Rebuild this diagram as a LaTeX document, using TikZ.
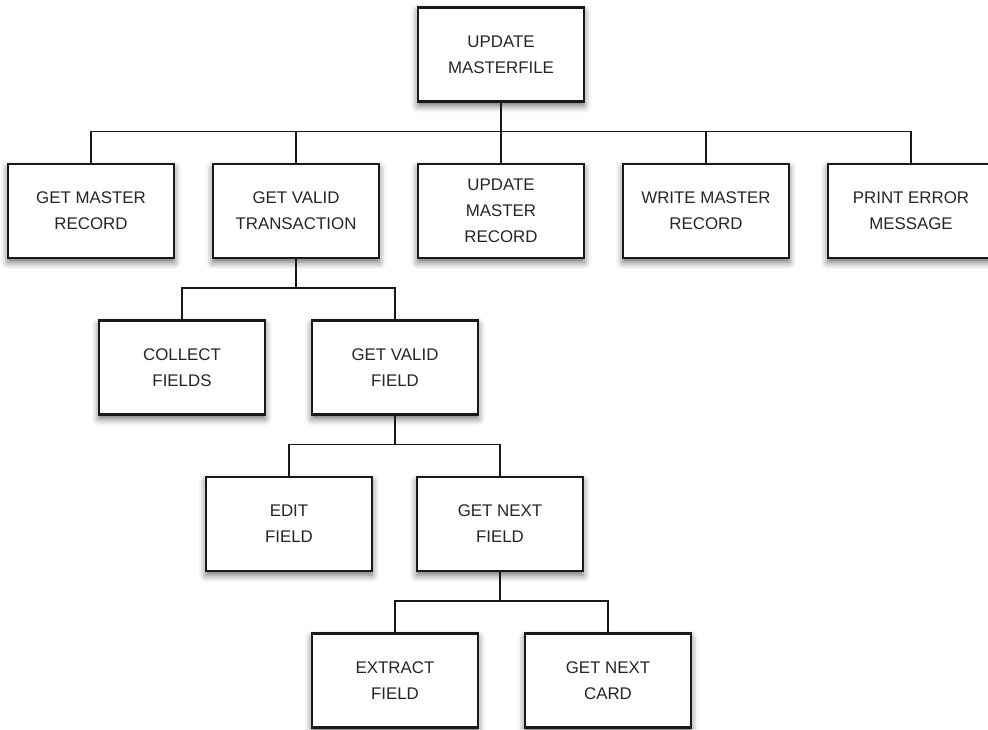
\documentclass[tikz,border=0pt]{standalone}
\usepackage{fontspec}
\setmainfont{Liberation Sans}
\usetikzlibrary{positioning,trees,shadows.blur}

\begin{document}
\begin{tikzpicture}[thin,
		level distance=3.9125cm,
		level 1/.style={sibling distance=5.125cm},
		level 2/.style={grow via three points={one child at (0,-3.9125) and two children at (-2.85,-3.9125) and (2.475,-3.9125)}},
		level 3/.style={grow via three points={one child at (0,-3.9125) and two children at (-2.65,-3.9125) and (2.625,-3.9125)}},
		level 4/.style={grow via three points={one child at (0,-3.9125) and two children at (-2.625,-3.9125) and (2.7,-3.9125)}},
		module/.style={draw=black!90, line width=1.5pt, fill=white, text=black!85,
			minimum width=4.15cm, minimum height=2.35cm, inner sep=0pt, align=center,
			font=\fontsize{12}{18.4}\selectfont,
			blur shadow={shadow xshift=0pt, shadow yshift=-3pt, shadow blur radius=5pt, shadow opacity=60}},
		every child node/.style={module},
		edge from parent/.style={draw=black!90, line width=1.1pt},
		edge from parent path={(\tikzparentnode.south) -- ++(0,-0.72) -| (\tikzchildnode.north)}]
		
		\useasboundingbox (0,0) rectangle (24.7,-18.25);
		
		\node[module] (masterfile) at (12.525,-1.3625) {UPDATE\\MASTERFILE}
		child { node (getmaster) {GET MASTER\\RECORD} }
		child { node (getvalidtrans) {GET VALID\\TRANSACTION}
			child { node (collect) {COLLECT\\FIELDS} }
			child { node (getvalidfield) {GET VALID\\FIELD}
				child { node (edit) {EDIT\\FIELD} }
				child { node (getnextfield) {GET NEXT\\FIELD}
					child { node (extract) {EXTRACT\\FIELD} }
					child { node (getnextcard) {GET NEXT\\CARD} }
				}
			}
		}
		child { node (updatemaster) {UPDATE\\MASTER\\RECORD} }
		child { node (writemaster) {WRITE MASTER\\RECORD} }
		child { node (printerror) {PRINT ERROR\\MESSAGE} };
		\end{tikzpicture}
\end{document}
